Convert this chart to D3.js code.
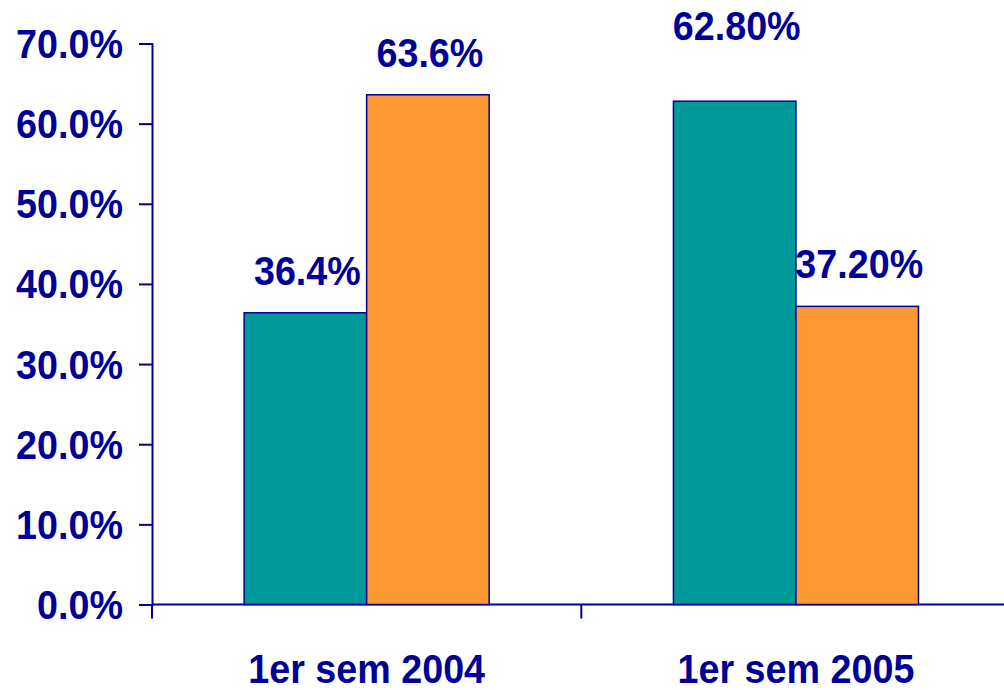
<!DOCTYPE html>
<html>
<head>
<meta charset="utf-8">
<script src="https://cdn.jsdelivr.net/npm/d3@7"></script>
<style>
  html, body { margin: 0; padding: 0; background: #fff; }
  svg { display: block; }
  text { font-family: "Liberation Sans", Arial, sans-serif; font-weight: bold; fill: #000099; }
</style>
</head>
<body>
<div id="chart"></div>
<script>
// chart data
var categories = ["1er sem 2004", "1er sem 2005"];
var seriesNames = ["a", "b"];
var seriesA = [0.364, 0.628];
var seriesB = [0.636, 0.372];
var valueLabels = [["36.4%", "63.6%"], ["62.80%", "37.20%"]];
var labelLift = [[0, 0], [33, 0]];    // the 62.80% label sits higher in the original
var yTicks = [0, 0.1, 0.2, 0.3, 0.4, 0.5, 0.6, 0.7];

var width = 1004, height = 690;
var navy = "#000099";
var colors = ["#009999", "#FF9933"];

var svg = d3.select("#chart").append("svg")
    .attr("width", width)
    .attr("height", height);

    // scales
var x = d3.scaleBand()
    .domain(categories)
    .range([152, 1010.6])
    .padding(0);

var xSub = d3.scaleBand()
    .domain(seriesNames)
    .range([0, x.bandwidth()])
    .paddingInner(0)
    .paddingOuter(0.752);

var y = d3.scaleLinear()
    .domain([0, 0.7])
    .range([604.5, 43.5]);

    // y axis
var yAxis = d3.axisLeft(y)
    .tickValues(yTicks)
    .tickFormat(d3.format(".1%"))
    .tickSize(13)
    .tickPadding(14);

var gy = svg.append("g")
    .attr("transform", "translate(152,0)")
    .call(yAxis);

gy.select(".domain").attr("stroke", navy).attr("stroke-width", 2);
gy.selectAll(".tick line").attr("stroke", navy).attr("stroke-width", 2);
gy.selectAll(".tick text")
    .attr("fill", navy)
    .attr("font-size", 41)
    .attr("font-family", null)
    .attr("dy", null)
    .attr("y", 14)
    .attr("transform", "scale(0.92,1)")
    .attr("x", -29 / 0.92);

    // x axis line and category ticks
var gx = svg.append("g");
gx.append("line")
    .attr("x1", 152).attr("x2", width)
    .attr("y1", y(0)).attr("y2", y(0))
    .attr("stroke", navy).attr("stroke-width", 2);

gx.selectAll(".cattick")
    .data(categories)
    .enter().append("line")
    .attr("class", "cattick")
    .attr("x1", function(d) { return x(d); })
    .attr("x2", function(d) { return x(d); })
    .attr("y1", y(0))
    .attr("y2", y(0) + 14)
    .attr("stroke", navy).attr("stroke-width", 2);

gx.selectAll(".catlabel")
    .data(categories)
    .enter().append("text")
    .attr("class", "catlabel")
    .attr("text-anchor", "middle")
    .attr("font-size", 41)
    .attr("transform", function(d) {
        return "translate(" + (x(d) + x.bandwidth() / 2) + ",683) scale(0.92,1)";
    })
    .text(function(d) { return d; });

    // bars
var rows = categories.map(function(c, i) {
    return { cat: c, values: [seriesA[i], seriesB[i]], labels: valueLabels[i], lift: labelLift[i] };
});

var groups = svg.selectAll(".group")
    .data(rows)
    .enter().append("g")
    .attr("class", "group")
    .attr("transform", function(d) { return "translate(" + x(d.cat) + ",0)"; });

groups.selectAll("rect")
    .data(function(d) { return d.values; })
    .enter().append("rect")
    .attr("x", function(d, j) { return xSub(seriesNames[j]); })
    .attr("y", function(d) { return y(d); })
    .attr("width", xSub.bandwidth())
    .attr("height", function(d) { return y(0) - y(d); })
    .attr("fill", function(d, j) { return colors[j]; })
    .attr("stroke", navy)
    .attr("stroke-width", 1.5);

groups.selectAll(".vlabel")
    .data(function(d) {
        return d.values.map(function(v, j) { return { v: v, label: d.labels[j], lift: d.lift[j], j: j }; });
    })
    .enter().append("text")
    .attr("class", "vlabel")
    .attr("text-anchor", "middle")
    .attr("font-size", 41)
    .attr("transform", function(d) {
        var cx = xSub(seriesNames[d.j]) + xSub.bandwidth() / 2 + 2;
        var cy = y(d.v) - 28 - d.lift;
        return "translate(" + cx + "," + cy + ") scale(0.92,1)";
    })
    .text(function(d) { return d.label; });
</script>
</body>
</html>
